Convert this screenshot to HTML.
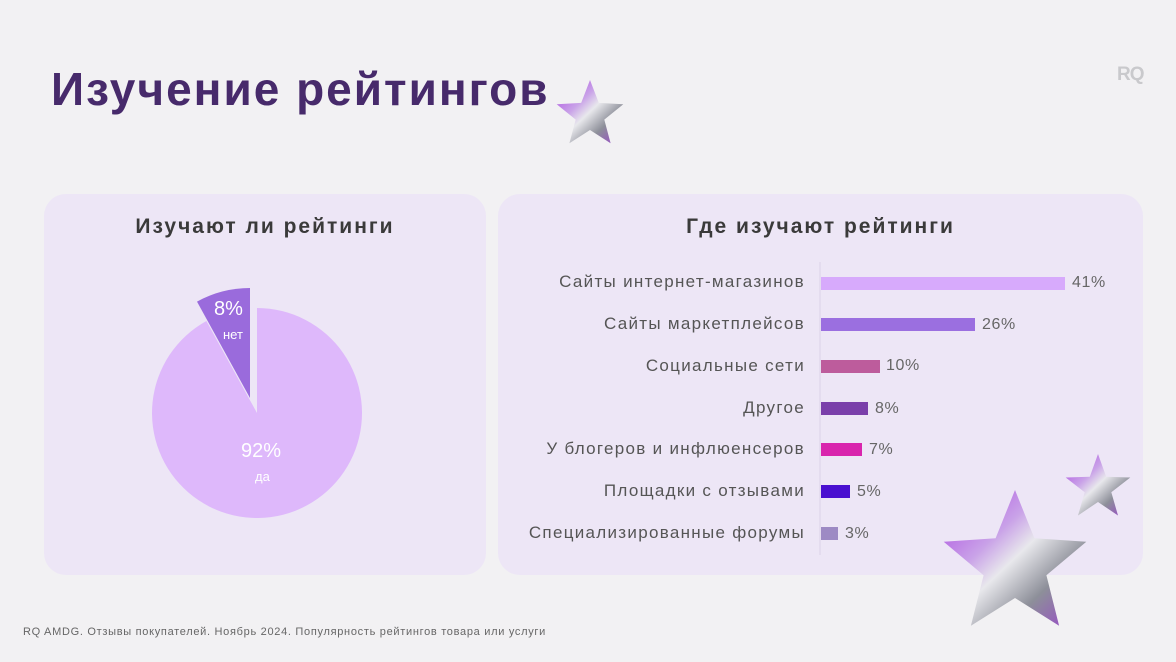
<!DOCTYPE html>
<html><head><meta charset="utf-8"><style>
body{margin:0;width:1176px;height:662px;background:#f2f1f3;font-family:"Liberation Sans","Noto Sans CJK SC",sans-serif;position:relative;overflow:hidden}
.t{position:absolute;white-space:nowrap}
.panel{position:absolute;background:#ede6f6;border-radius:22px}
.lbl{position:absolute;right:371px;font-size:17px;color:#555;white-space:nowrap;letter-spacing:1.3px}
.bar{position:absolute;left:821px;height:13px}
.v{position:absolute;font-size:16px;color:#666;letter-spacing:0.6px}
</style></head><body>
<div class="t" style="left:51px;top:62px;font-size:46px;font-weight:bold;color:#472a6b;letter-spacing:2px">Изучение рейтингов</div>
<div class="t" style="left:1117px;top:64px;font-size:19px;font-weight:bold;color:#c9c9cc;letter-spacing:-1px">RQ</div>
<div class="panel" style="left:44px;top:194px;width:442px;height:381px"></div>
<div class="panel" style="left:498px;top:194px;width:645px;height:381px"></div>
<div class="t" style="left:44px;width:442px;text-align:center;top:215px;font-size:21px;font-weight:bold;color:#3a3a3a;letter-spacing:2px">Изучают ли рейтинги</div>
<div class="t" style="left:498px;width:645px;text-align:center;top:215px;font-size:21px;font-weight:bold;color:#3a3a3a;letter-spacing:2px">Где изучают рейтинги</div>
<svg width="1176" height="662" style="position:absolute;left:0;top:0">
<defs>
<linearGradient id="g" x1="0" y1="0" x2="1" y2="1"><stop offset="0" stop-color="#a83de0"/><stop offset=".35" stop-color="#c9a2e8"/><stop offset=".5" stop-color="#e8e8ec"/><stop offset=".72" stop-color="#8d8f99"/><stop offset="1" stop-color="#9a3fd0"/></linearGradient>
</defs>
<path d="M257,413 L257,308 A105,105 0 1 1 206.4,321 Z" fill="#deb8fb"/>
<path d="M250,398 L197,301.6 A110,110 0 0 1 250,288 Z" fill="#9a6bdc"/>
<line x1="820" y1="262" x2="820" y2="555" stroke="#dcd3e8" stroke-width="1"/>
<polygon points="590,80 598.8,102.9 623.3,104.2 604.3,119.6 610.6,143.3 590,130 569.4,143.3 575.7,119.6 556.7,104.2 581.2,102.9" fill="url(#g)"/>
<polygon points="1015,490 1034.4,538.3 1086.3,541.8 1046.4,575.2 1059.1,625.7 1015,598 970.9,625.7 983.6,575.2 943.7,541.8 995.6,538.3" fill="url(#g)"/>
<polygon points="1098,454 1106.2,476.7 1130.3,477.5 1111.3,492.3 1118,515.5 1098,502 1078,515.5 1084.7,492.3 1065.7,477.5 1089.8,476.7" fill="url(#g)"/>
</svg>
<div class="t" style="left:214px;top:298px;font-size:20px;color:#fff">8%</div>
<div class="t" style="left:223px;top:327px;font-size:13px;color:#fff">нет</div>
<div class="t" style="left:241px;top:440px;font-size:20px;color:#fff">92%</div>
<div class="t" style="left:255px;top:469px;font-size:13px;color:#fff">да</div>

<div class="lbl" style="top:272px">Сайты интернет-магазинов</div>
<div class="lbl" style="top:314px">Сайты маркетплейсов</div>
<div class="lbl" style="top:356px">Социальные сети</div>
<div class="lbl" style="top:398px">Другое</div>
<div class="lbl" style="top:439px">У блогеров и инфлюенсеров</div>
<div class="lbl" style="top:481px">Площадки с отзывами</div>
<div class="lbl" style="top:523px">Специализированные форумы</div>

<div class="bar" style="top:277px;width:244px;background:#d7aafc"></div>
<div class="bar" style="top:318px;width:154px;background:#9b6fe0"></div>
<div class="bar" style="top:360px;width:59px;background:#bd5c9c"></div>
<div class="bar" style="top:402px;width:47px;background:#7a3faa"></div>
<div class="bar" style="top:443px;width:41px;background:#d925ad"></div>
<div class="bar" style="top:485px;width:29px;background:#4a10d0"></div>
<div class="bar" style="top:527px;width:17px;background:#9d8ac4"></div>
<div class="v" style="left:1072px;top:274px">41%</div>
<div class="v" style="left:982px;top:316px">26%</div>
<div class="v" style="left:886px;top:357px">10%</div>
<div class="v" style="left:875px;top:400px">8%</div>
<div class="v" style="left:869px;top:441px">7%</div>
<div class="v" style="left:857px;top:483px">5%</div>
<div class="v" style="left:845px;top:525px">3%</div>
<div class="t" style="left:23px;top:626px;font-size:11px;color:#666;letter-spacing:0.7px">RQ AMDG. Отзывы покупателей. Ноябрь 2024. Популярность рейтингов товара или услуги</div>
</body></html>
